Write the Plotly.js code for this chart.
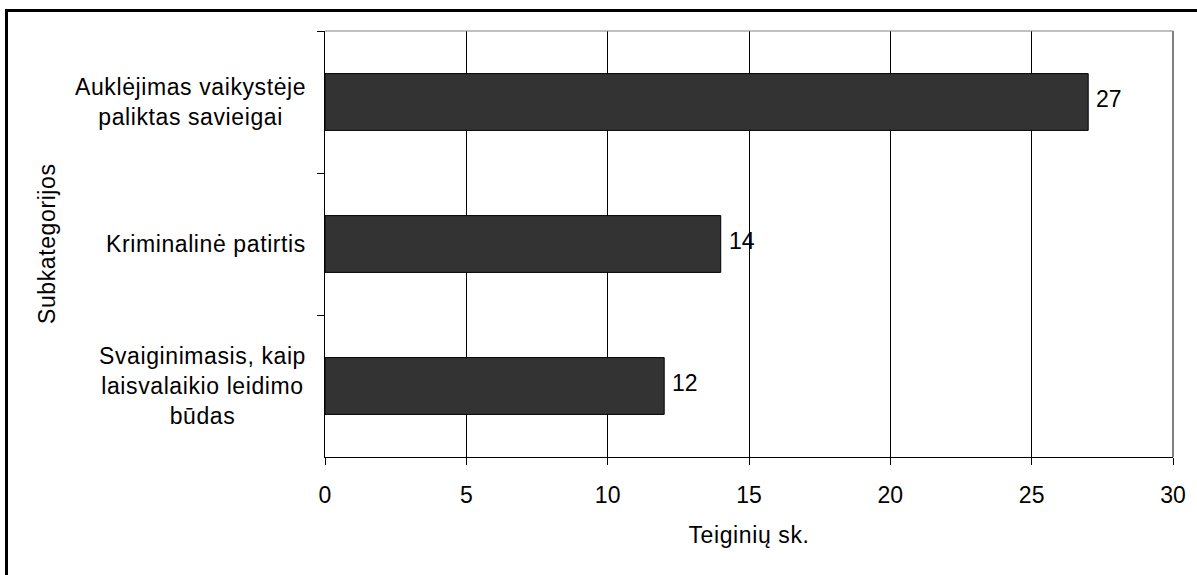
<!DOCTYPE html>
<html><head><meta charset="utf-8">
<script src="https://cdn.plot.ly/plotly-3.0.1.min.js"></script>
<style>
html,body{margin:0;padding:0;width:1197px;height:575px;overflow:hidden;background:#fff;}
#frame{position:absolute;left:5px;top:9px;width:1300px;height:700px;border:3px solid #000;box-sizing:border-box;}
#chart{position:absolute;left:0;top:0;width:1197px;height:575px;}
</style></head><body>
<div id="frame"></div>
<div id="chart"></div>
<script>
const categories = ['Auklėjimas vaikystėje paliktas savieigai', 'Kriminalinė patirtis', 'Svaiginimasis, kaip laisvalaikio leidimo būdas'];
const categoryLabels = ['Auklėjimas vaikystėje<br>paliktas savieigai', 'Kriminalinė patirtis', 'Svaiginimasis, kaip<br>laisvalaikio leidimo<br>būdas'];
const values = [27, 14, 12];
const xTickVals = [0, 5, 10, 15, 20, 25, 30];
const xTickText = ['0', '5', '10', '15', '20', '25', '30'];
const xTitle = 'Teiginių sk.';
const yTitle = 'Subkategorijos';

const F = 'Liberation Sans, Arial, sans-serif';
const FS = 23;
const spaced = s => s.split('<br>').map(l => '<span style="letter-spacing:0.6px">' + l + '</span>').join('<br>');

const trace = {
  type: 'bar', orientation: 'h',
  x: values, y: categories,
  width: 0.4,
  marker: {color: '#333333', line: {color: '#000', width: 1}},
  hoverinfo: 'none'
};

const annotations = [];
categories.forEach((c, i) => {
  annotations.push({
    xref: 'paper', yref: 'y', x: (308 - 325) / 848, y: c,
    xanchor: 'right', yanchor: 'middle', align: 'center',
    text: spaced(categoryLabels[i]), showarrow: false,
    font: {family: F, size: FS, color: '#000'}
  });
  annotations.push({
    xref: 'x', yref: 'y', x: values[i], y: c,
    xanchor: 'left', yanchor: 'middle', xshift: 6, yshift: 3,
    text: String(values[i]), showarrow: false,
    font: {family: F, size: FS, color: '#000'}
  });
});
annotations.push({
  xref: 'paper', yref: 'paper', x: (47 - 325) / 848, y: 0.5,
  xanchor: 'center', yanchor: 'middle', textangle: -90,
  text: spaced(yTitle), showarrow: false,
  font: {family: F, size: FS, color: '#000'}
});

const layout = {
  width: 1197, height: 575,
  margin: {l: 325, r: 24, t: 31, b: 118, pad: 0},
  paper_bgcolor: 'rgba(0,0,0,0)', plot_bgcolor: '#fff',
  showlegend: false,
  xaxis: {
    range: [0, 30], tickmode: 'array', tickvals: xTickVals, ticktext: xTickText,
    showgrid: true, gridcolor: '#000', gridwidth: 1, zeroline: false,
    showline: true, linecolor: '#000', linewidth: 1,
    ticks: 'outside', ticklen: 7, tickcolor: '#000', tickwidth: 1,
    ticklabelstandoff: 10,
    tickfont: {family: F, size: FS, color: '#000'},
    title: {text: spaced(xTitle), font: {family: F, size: FS, color: '#000'}, standoff: 20},
    fixedrange: true
  },
  yaxis: {
    type: 'category', categoryarray: categories, categoryorder: 'array',
    range: [2.5, -0.5], tickson: 'boundaries',
    ticks: 'outside', ticklen: 7, tickcolor: '#000', tickwidth: 1,
    showticklabels: false, showgrid: false, zeroline: false,
    showline: true, linecolor: '#000', linewidth: 1, fixedrange: true
  },
  shapes: [
    {type: 'line', xref: 'paper', yref: 'paper', x0: 0, x1: 1, y0: 1, y1: 1, line: {color: '#808080', width: 1}},
    {type: 'line', xref: 'paper', yref: 'paper', x0: 1, x1: 1, y0: 0, y1: 1, line: {color: '#808080', width: 2}}
  ],
  annotations: annotations
};

Plotly.newPlot('chart', [trace], layout, {displayModeBar: false, staticPlot: true});
</script>
</body></html>
